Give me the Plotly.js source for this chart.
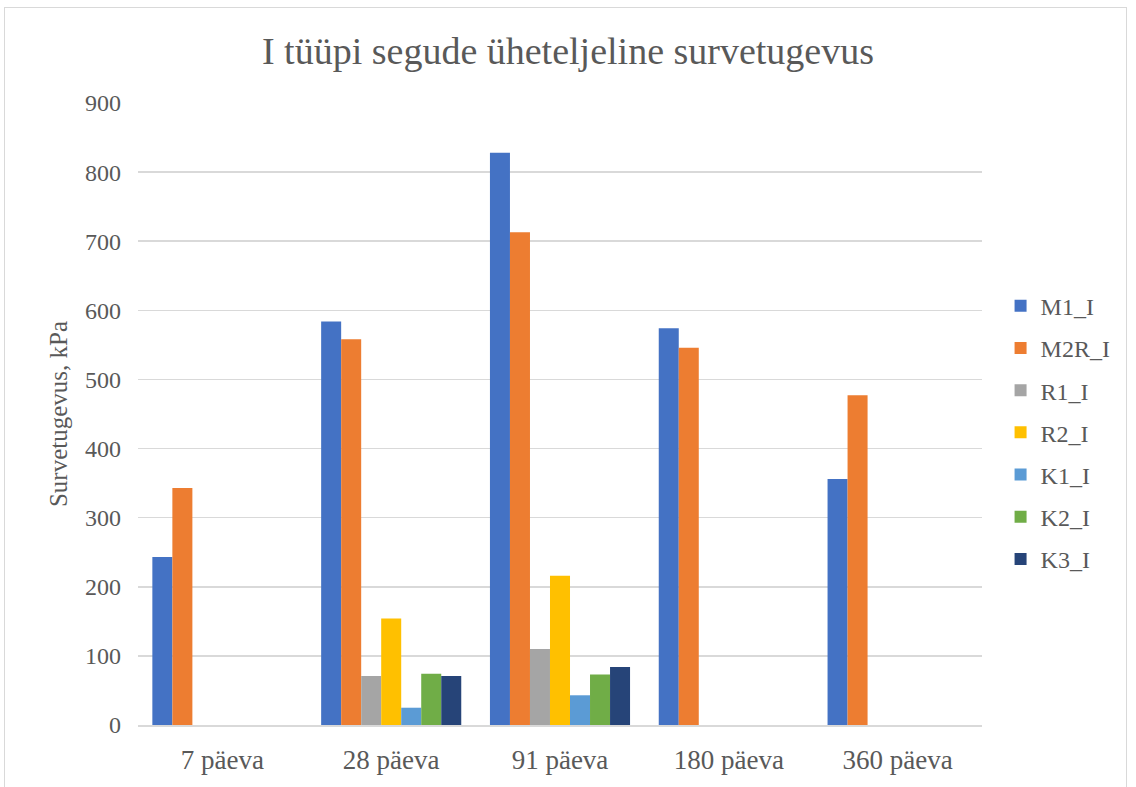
<!DOCTYPE html>
<html><head><meta charset="utf-8">
<script src="https://cdn.plot.ly/plotly-3.0.1.min.js"></script>
<style>html,body{margin:0;padding:0;background:#fff}#frame{position:absolute;left:4px;top:7px;width:1123px;height:790px;border:1px solid #d9d9d9;box-sizing:border-box}#chart{position:absolute;left:0;top:0;width:1136px;height:787px}</style>
</head><body><div id="frame"></div><div id="chart"></div>
<script>
const categories = ["7 päeva", "28 päeva", "91 päeva", "180 päeva", "360 päeva"];
const M1_I  = [243, 584, 828, 574, 356];
const M2R_I = [343, 558, 713, 546, 477];
const R1_I  = [null, 71, 110, null, null];
const R2_I  = [null, 154, 216, null, null];
const K1_I  = [null, 25, 43, null, null];
const K2_I  = [null, 74, 73, null, null];
const K3_I  = [null, 71, 84, null, null];
const seriesNames = ["M1_I", "M2R_I", "R1_I", "R2_I", "K1_I", "K2_I", "K3_I"];
const seriesValues = [M1_I, M2R_I, R1_I, R2_I, K1_I, K2_I, K3_I];
const colors = ["#4472c4", "#ed7d31", "#a5a5a5", "#ffc000", "#5b9bd5", "#70ad47", "#264478"];

const traces = seriesNames.map((n, i) => ({
  type: "bar", name: n, x: categories, y: seriesValues[i],
  marker: {color: colors[i]}, legendgroup: n
}));
const fontFam = "Liberation Serif, Times New Roman, serif";
const layout = {
  width: 1136, height: 787,
  margin: {l: 138, r: 154, t: 103, b: 62},
  paper_bgcolor: "rgba(0,0,0,0)", plot_bgcolor: "rgba(0,0,0,0)",
  font: {family: fontFam, color: "#595959", size: 24},
  title: {text: "I tüüpi segude üheteljeline survetugevus", font: {family: fontFam, size: 38, color: "#595959"}, x: 0.5, xanchor: "center", y: 0.935, yanchor: "middle"},
  barmode: "group", bargap: 0.17, bargroupgap: 0,
  xaxis: {showgrid: false, showline: true, linecolor: "#d9d9d9", linewidth: 1.5, ticks: "", tickfont: {size: 27}, ticklabelstandoff: 10},
  yaxis: {range: [0, 900], dtick: 100, gridcolor: "#d9d9d9", gridwidth: 1.5, zeroline: false, showline: false, ticks: "", tickfont: {size: 24}, ticklabelstandoff: 16,
    title: {text: "Survetugevus, kPa", font: {size: 25}, standoff: 10}},
  legend: {x: 1.022, xanchor: "left", y: 0.47, yanchor: "middle", font: {size: 24}, tracegroupgap: 8, bgcolor: "rgba(0,0,0,0)"},
  showlegend: true
};
Plotly.newPlot("chart", traces, layout, {displayModeBar: false, staticPlot: true});
</script>
</body></html>
